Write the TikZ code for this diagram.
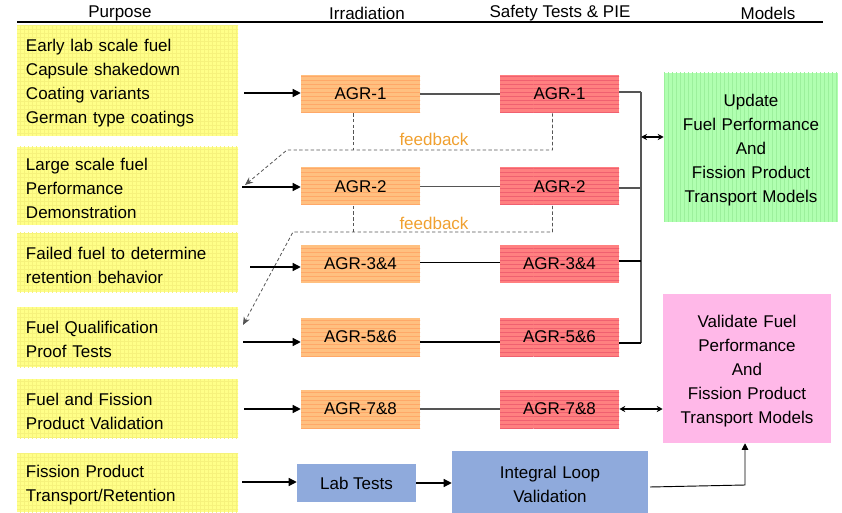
\documentclass[tikz,border=0pt]{standalone}
\usepackage{fontspec}
\setmainfont{Liberation Sans}
\usetikzlibrary{arrows.meta,patterns,calc}
\definecolor{yel}{HTML}{FFFF88}
\definecolor{yelg}{HTML}{F6F27C}
\definecolor{org}{HTML}{FFC080}
\definecolor{orgs}{HTML}{FFA868}
\definecolor{rd}{HTML}{FF8080}
\definecolor{rds}{HTML}{F06070}
\definecolor{grn}{HTML}{B0FFB0}
\definecolor{grns}{HTML}{9CF09C}
\definecolor{pnk}{HTML}{FFB8E8}
\definecolor{blu}{HTML}{8FAADC}
\definecolor{fbc}{HTML}{F0A030}
\definecolor{ln}{HTML}{555555}
\tikzset{
  txt/.style={inner sep=0pt},
  lower/.style={execute at begin node={\rule{0pt}{13pt}}},
  purp/.style={fill=yel, postaction={pattern=grid, pattern color=yelg},
    text width=152.25pt, inner xsep=6.75pt, inner ysep=0pt, align=left,
    minimum width=165.75pt, lower},
  irr/.style={fill=org, postaction={pattern=horizontal lines, pattern color=orgs},
    minimum width=89.25pt, minimum height=28.5pt, inner sep=0pt},
  saf/.style={fill=rd, postaction={pattern=horizontal lines, pattern color=rds},
    minimum width=89.25pt, minimum height=28.5pt, inner sep=0pt},
  modg/.style={fill=grn, postaction={pattern=vertical lines, pattern color=grns},
    minimum width=130.5pt, minimum height=111.75pt, inner sep=0pt, text width=128pt, align=center, lower},
  modp/.style={fill=pnk, minimum width=126pt, minimum height=111.75pt, inner sep=0pt, text width=124pt, align=center, lower},
  lab/.style={fill=blu, inner sep=0pt, align=center},
  arr/.style={draw=black, line width=0.9pt, -{Triangle[length=6pt,width=6pt]}},
  con/.style={draw=ln, line width=0.9pt},
  dbl/.style={draw=black, line width=0.8pt, {Stealth[length=4.5pt,width=4.5pt]}-{Stealth[length=4.5pt,width=4.5pt]}},
  fb/.style={draw=ln, line width=0.6pt, dash pattern=on 2.5pt off 1.8pt},
  fba/.style={fb, -{Stealth[length=6pt,width=5pt]}},
  fbt/.style={txt, text=fbc}
}
\begin{document}
\begin{tikzpicture}[x=0.75pt,y=-0.75pt, font=\fontsize{12.75}{18}\selectfont]
\useasboundingbox (0,0) rectangle (842,513);

% header
\node[txt] (hp) at (120,13) {Purpose};
\node[txt] (hi) at (367,13) {Irradiation};
\node[txt] (hs) at (560,13) {Safety Tests \& PIE};
\node[txt] (hm) at (768,13) {Models};
\draw[line width=0.9pt] (17,22) -- (823,22);

% purpose boxes
\node[purp, minimum height=82.5pt] (p1) at (127.5,81) {Early lab scale fuel\\Capsule shakedown\\Coating variants\\German type coatings};
\node[purp, minimum height=58.5pt] (p2) at (127.5,186) {Large scale fuel\\Performance\\Demonstration};
\node[purp, minimum height=44.25pt] (p3) at (127.5,262.5) {Failed fuel to determine\\retention behavior};
\node[purp, minimum height=45pt] (p4) at (127.5,337) {Fuel Qualification\\Proof Tests};
\node[purp, minimum height=44.25pt] (p5) at (127.5,408.5) {Fuel and Fission\\Product Validation};
\node[purp, minimum height=44.25pt] (p6) at (127.5,482.5) {Fission Product\\Transport/Retention};

% irradiation
\node[irr] (o1) at (360.5,94) {AGR-1};
\node[irr] (o2) at (360.5,186.5) {AGR-2};
\node[irr] (o3) at (360.5,264) {AGR-3\&4};
\node[irr] (o5) at (360.5,337) {AGR-5\&6};
\node[irr] (o7) at (360.5,409) {AGR-7\&8};

% safety tests
\node[saf] (r1) at (559.5,94) {AGR-1};
\node[saf] (r2) at (559.5,186.5) {AGR-2};
\node[saf] (r3) at (559.5,264) {AGR-3\&4};
\node[saf] (r5) at (559.5,337) {AGR-5\&6};
\node[saf] (r7) at (559.5,409) {AGR-7\&8};

% models
\node[modg] (g) at (751,147.5) {Update\\Fuel Performance\\And\\Fission Product\\Transport Models};
\node[modp] (pk) at (747,368.5) {Validate Fuel\\Performance\\And\\Fission Product\\Transport Models};

% lab tests
\node[lab, minimum width=89.25pt, minimum height=28.5pt] (lt) at (356.5,483) {Lab Tests};
\node[lab, minimum width=147pt, minimum height=46.5pt, text width=145pt, lower] (il) at (550,482) {Integral Loop\\Validation};

% purpose -> irradiation arrows
\coordinate (s1) at (244,93);
\coordinate (s2) at (242,187);
\coordinate (s3) at (250,267);
\coordinate (s5) at (243,342);
\coordinate (s7) at (244,409);
\coordinate (s8) at (242,482);
\draw[arr] (s1) -- (o1.west |- s1);
\draw[arr] (s2) -- (o2.west |- s2);
\draw[arr] (s3) -- (o3.west |- s3);
\draw[arr] (s5) -- (o5.west |- s5);
\draw[arr] (s7) -- (o7.west |- s7);
\draw[arr] (s8) -- (lt.west |- s8);
\draw[arr] (lt.east) -- (il.west |- lt.east);

% irradiation -> safety
\draw[con] (o1.east) -- (r1.west);
\draw[con] (o2.east) -- (r2.west);
\draw[con, draw=black, line width=0.7pt] (o3.east |- 0,262) -- (r3.west |- 0,262);
\draw[con, draw=black] (o5.east |- s5) -- (r5.west |- s5);
\draw[con] (o7.east) -- (r7.west);

% bus
\coordinate (bt) at (641,92);
\coordinate (bb) at (641,343);
\coordinate (bm) at (641,137);
\draw[con] (bt) -- (bb);
\draw[con] (r1.east |- bt) -- (bt);
\draw[con] (r2.east |- 0,188) -- (641,188);
\draw[con, draw=black] (r3.east |- 0,261) -- (641,261);
\draw[con, draw=black] (r5.east |- bb) -- (bb);
\draw[dbl] (bm) -- (g.west |- bm);
\draw[dbl] (r7.east) -- (pk.west |- r7.east);

% integral loop -> validate
\coordinate (k0) at (650,487);
\coordinate (k1) at (745,485);
\draw[arr, line width=0.7pt, -{Triangle[length=5pt,width=5pt]}] (k0) -- (k1) -- (pk.south -| k1);

% feedback 1
\coordinate (o1b) at ($(o1.south)+(-7,0)$);
\coordinate (r1b) at ($(r1.south)+(-7,0)$);
\coordinate (f1) at (287,150);
\coordinate (f1t) at (245,185);
\draw[fb] (o1b) -- (o1b |- f1);
\draw[fba] (r1b) |- (f1) -- (f1t);
\node[fbt] (fl1) at (434,139) {feedback};

% feedback 2
\coordinate (o2b) at ($(o2.south)+(-7,0)$);
\coordinate (r2b) at ($(r2.south)+(-7,0)$);
\coordinate (f2) at (293,232);
\coordinate (f2t) at (243,325);
\draw[fb] (o2b) -- (o2b |- f2);
\draw[fba] (r2b) |- (f2) -- (f2t);
\node[fbt] (fl2) at (434,223) {feedback};
\end{tikzpicture}
\end{document}
